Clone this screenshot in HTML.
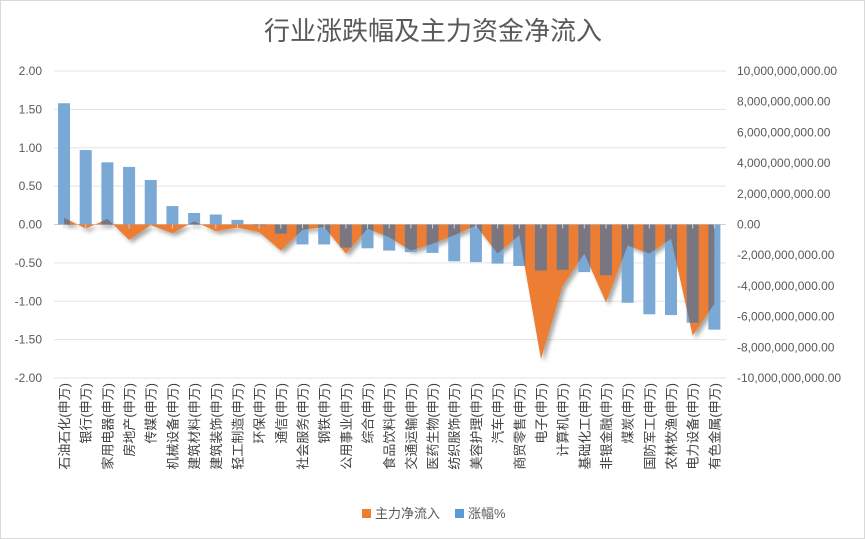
<!DOCTYPE html>
<html><head><meta charset="utf-8">
<style>
body{margin:0;background:#fff;}
svg{display:block;font-family:"Liberation Sans","Noto Sans CJK SC",sans-serif;}
</style></head>
<body>
<svg id="chart" width="865" height="539" viewBox="0 0 865 539" xmlns="http://www.w3.org/2000/svg">
<rect x="0.5" y="0.5" width="864" height="538" fill="#fff" stroke="#d9d9d9"/>
<text x="433" y="40" text-anchor="middle" font-size="26" fill="#595959" font-family="'Noto Sans CJK SC',sans-serif">行业涨跌幅及主力资金净流入</text>
<defs>
<filter id="sh" x="-5%" y="-5%" width="110%" height="120%"><feDropShadow dx="3" dy="3" stdDeviation="2" flood-color="#000" flood-opacity="0.35"/></filter>
<clipPath id="areaClip"><path id="clipPath"/></clipPath>
</defs>
<g id="grid"></g>
<g id="area"></g>
<g id="bars"></g>
<g id="overlap" clip-path="url(#areaClip)"></g>
<g id="axes"></g>
<g>
<rect x="362" y="509" width="9" height="9" fill="#ed7d31"/>
<text x="375" y="518" font-size="13" fill="#595959">主力净流入</text>
<rect x="455" y="509" width="9" height="9" fill="#5b9bd5"/>
<text x="468" y="518" font-size="13" fill="#595959">涨幅%</text>
</g>
</svg>
<script>
const categories = ["石油石化","银行","家用电器","房地产","传媒","机械设备","建筑材料","建筑装饰","轻工制造","环保","通信","社会服务","钢铁","公用事业","综合","食品饮料","交通运输","医药生物","纺织服饰","美容护理","汽车","商贸零售","电子","计算机","基础化工","非银金融","煤炭","国防军工","农林牧渔","电力设备","有色金属"];
const changePct = [1.58,0.97,0.81,0.75,0.58,0.24,0.15,0.13,0.06,-0.01,-0.12,-0.26,-0.26,-0.30,-0.31,-0.34,-0.36,-0.37,-0.48,-0.49,-0.51,-0.54,-0.60,-0.59,-0.62,-0.66,-1.02,-1.17,-1.18,-1.28,-1.37];
const inflowBn = [0.44,-0.28,0.37,-1.0,-0.05,-0.57,0.2,-0.43,-0.2,-0.5,-1.7,-0.35,-0.17,-1.9,-0.28,-0.83,-1.7,-1.26,-0.7,-0.07,-1.9,-0.7,-8.76,-4.0,-1.9,-5.07,-1.37,-1.9,-0.93,-7.24,-5.17];
const leftTicks = [2,1.5,1,0.5,0,-0.5,-1,-1.5,-2];
const rightTicks = [10,8,6,4,2,0,-2,-4,-6,-8,-10];

const NS="http://www.w3.org/2000/svg";
const plotTop=71, plotBot=378, x0=54, x1=726;
const yL = v => plotTop + (2 - v) / 4 * (plotBot - plotTop);
const yR = v => plotTop + (10 - v) / 20 * (plotBot - plotTop);
const step = (x1 - x0) / categories.length;
const xC = i => x0 + step * (i + 0.5) - 0.8;
function mk(tag, attrs, parent){const e=document.createElementNS(NS,tag);for(const k in attrs)e.setAttribute(k,attrs[k]);parent.appendChild(e);return e;}
const grid=document.getElementById('grid'), axes=document.getElementById('axes');
leftTicks.forEach(v=>{
  const g=mk('line',{x1:x0,x2:x1,y1:yL(v),y2:yL(v),stroke:v===0?'#d0d0d0':'#e3e3e3','stroke-width':1},grid);
  
  
  const t=mk('text',{x:42,y:yL(v)+4,'text-anchor':'end','font-size':12,fill:'#595959'},axes);
  t.textContent=v.toFixed(2);
  
  
});
rightTicks.forEach(v=>{
  const t=mk('text',{x:737,y:yR(v)+4,'font-size':12,fill:'#595959'},axes);
  t.textContent=(v*1e9).toLocaleString('en-US',{minimumFractionDigits:2});
  
  
});
let d='M'+xC(0)+','+yR(0);
inflowBn.forEach((v,i)=>{d+=' L'+xC(i)+','+yR(v);});
d+=' L'+xC(inflowBn.length-1)+','+yR(0)+' Z';
const ar=mk('path',{d:d,fill:'#ed7d31',filter:'url(#sh)'},document.getElementById('area'));


document.getElementById('clipPath').setAttribute('d',d);
const bw=12;
const barsG=document.getElementById('bars'), ovG=document.getElementById('overlap');
changePct.forEach((v,i)=>{
  const y=Math.min(yL(v),yL(0)), h=Math.abs(yL(v)-yL(0));
  const b=mk('rect',{x:xC(i)-bw/2,y:y,width:bw,height:Math.max(h,0.5),fill:'#7aa9d6'},barsG);
  
  
  const o=mk('rect',{x:xC(i)-bw/2,y:y,width:bw,height:Math.max(h,0.5),fill:'#7a7680'},ovG);
  
  
});
categories.forEach((c,i)=>{
  const tk=mk('line',{x1:xC(i),x2:xC(i),y1:yL(0),y2:yL(0)+4,stroke:'#d0d0d0'},axes);
  
  
  const t=mk('text',{x:0,y:0,'text-anchor':'end','font-size':13,fill:'#404040',transform:'translate('+(xC(i)+5)+',383) rotate(-90)'},axes);
  t.textContent=c+'(申万)';
  
  
});
</script>
</body></html>
